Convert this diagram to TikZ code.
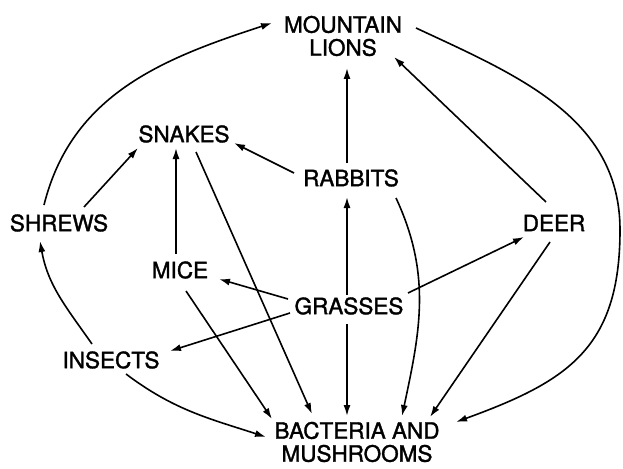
\documentclass[tikz,border=0pt]{standalone}
\usepackage{fontspec}
\setmainfont{TeX Gyre Heros}
\newfontfamily\lblfont{TeX Gyre Heros}[FakeBold=1.5]
\usetikzlibrary{arrows.meta}
\begin{document}
\begin{tikzpicture}[x=1pt,y=-1pt,
  lbl/.style={inner sep=0pt,align=center,font=\lblfont\fontsize{22.5}{23}\selectfont},
  arr/.style={line width=1.6pt,-{Latex[length=11pt,width=7pt]}}]
\useasboundingbox[fill=white] (0,0) rectangle (623,468);
\node[lbl] (ml) at (343,36) {MOUNTAIN\\LIONS};
\node[lbl] (snakes) at (184,134) {SNAKES};
\node[lbl] (rabbits) at (351,178) {RABBITS};
\node[lbl] (shrews) at (59,223) {SHREWS};
\node[lbl] (deer) at (554,223) {DEER};
\node[lbl] (mice) at (180,270) {MICE};
\node[lbl] (grasses) at (349,306) {GRASSES};
\node[lbl] (insects) at (111,360) {INSECTS};
\node[lbl] (bact) at (357,442) {BACTERIA AND\\MUSHROOMS};
% curves
\draw[arr] ([shift={(-15,-18)}]shrews.center) to[out=76,in=198] ([shift={(-71,-13)}]ml.center);
\draw[arr] ([shift={(73,-8)}]ml.center) to[out=-25,in=90] ++(204,202) to[out=-90,in=20,looseness=1.2] ([shift={(99,-20)}]bact.center);
\draw[arr] ([shift={(-19,-16)}]insects.center) to[out=125,in=-80] ([shift={(-19,18)}]shrews.center);
\draw[arr] ([shift={(15,14)}]insects.center) to[out=-37,in=162] ([shift={(-91,-5)}]bact.center);
\draw[arr] ([shift={(45,20)}]rabbits.center) to[out=-65,in=78] ([shift={(45,-26)}]bact.center);
% straight
\draw[arr] ([shift={(25,-16)}]shrews.center) -- ([shift={(-46,14)}]snakes.center);
\draw[arr] ([shift={(-4,-16)}]mice.center) -- ([shift={(-8,14)}]snakes.center);
\draw[arr] ([shift={(12,18)}]snakes.center) -- ([shift={(-45,-28)}]bact.center);
\draw[arr] ([shift={(-57,-5)}]rabbits.center) -- ([shift={(50,9)}]snakes.center);
\draw[arr] ([shift={(-4,-15)}]rabbits.center) -- ([shift={(4,32)}]ml.center);
\draw[arr] ([shift={(-2,-11)}]grasses.center) -- ([shift={(-4,19)}]rabbits.center);
\draw[arr] ([shift={(-8,-21)}]deer.center) -- ([shift={(51,21)}]ml.center);
\draw[arr] ([shift={(-61,-7)}]grasses.center) -- ([shift={(39,9)}]mice.center);
\draw[arr] ([shift={(-59,7)}]grasses.center) -- ([shift={(59,-9)}]insects.center);
\draw[arr] ([shift={(59,-13)}]grasses.center) -- ([shift={(-30,14)}]deer.center);
\draw[arr] ([shift={(6,21)}]mice.center) -- ([shift={(-85,-23)}]bact.center);
\draw[arr] ([shift={(-2,18)}]grasses.center) -- ([shift={(-10,-26)}]bact.center);
\draw[arr] ([shift={(-4,19)}]deer.center) -- ([shift={(73,-25)}]bact.center);
\end{tikzpicture}
\end{document}
